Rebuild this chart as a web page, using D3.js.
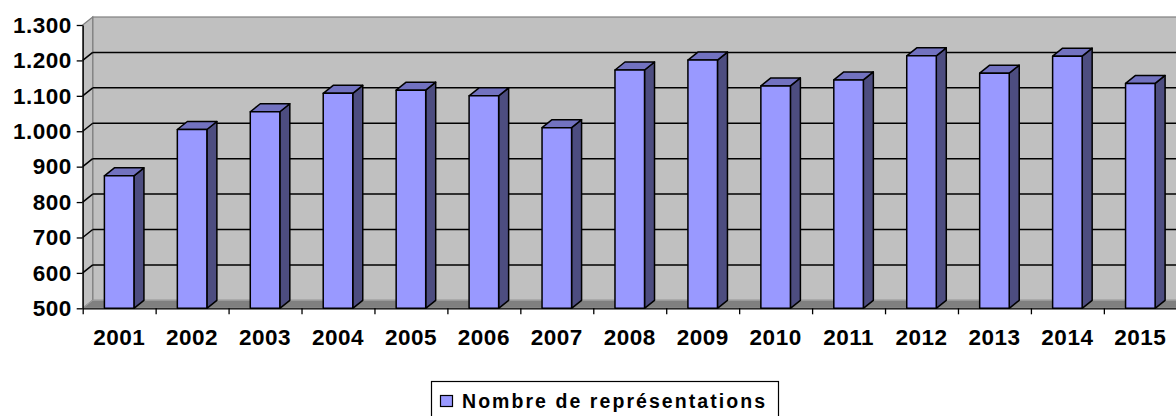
<!DOCTYPE html>
<html>
<head>
<meta charset="utf-8">
<script src="https://cdn.jsdelivr.net/npm/d3@7"></script>
<style>
  html, body { margin: 0; padding: 0; background: #fff; }
  svg { display: block; font-family: "Liberation Sans", Arial, sans-serif; }
  .axis text { font-size: 22.5px; font-weight: bold; fill: #000; letter-spacing: 0.5px; }
</style>
</head>
<body>
<div id="chart"></div>
<script>
// chart data
const years = ['2001', '2002', '2003', '2004', '2005', '2006', '2007', '2008',
               '2009', '2010', '2011', '2012', '2013', '2014', '2015'];
const representations = [874, 1005, 1055, 1107, 1116, 1100, 1010, 1173,
                         1201, 1128, 1145, 1213, 1164, 1212, 1135];
const yTicks = [500, 600, 700, 800, 900, 1000, 1100, 1200, 1300];
const seriesName = 'Nombre de représentations';

const width = 1176, height = 416;
const plotLeft = 82.7, plotBottom = 308.3, plotTop = 25;
const band = 72.94;
const plotRight = plotLeft + band * years.length;
// depth offset of the 3d box
const dx = 10, dy = -8;

const colors = {
    wall: '#c0c0c0',
    floor: '#808080',
    edge: '#808080',
    front: '#9999ff',
    side: '#4d4d80',
    top: '#7272c0'
};

const frLocale = d3.formatLocale({ decimal: ',', thousands: '.', grouping: [3], currency: ['', ' €'] });
const fmt = frLocale.format(',');

const svg = d3.select('#chart').append('svg')
    .attr('width', width)
    .attr('height', height);

const xScale = d3.scaleBand().domain(years).range([plotLeft, plotRight]).paddingInner(0).paddingOuter(0);
const yScale = d3.scaleLinear().domain([500, 1300]).range([plotBottom, plotTop]);

const barW = xScale.bandwidth() * 0.405;

// walls
const y0 = yScale(500), yTop = yScale(1300);
svg.append('rect')
    .attr('x', plotLeft + dx).attr('y', yTop + dy)
    .attr('width', width - plotLeft).attr('height', y0 - yTop)
    .attr('fill', colors.wall)
    .attr('stroke', colors.edge).attr('stroke-width', 1.2);

svg.append('polygon')
    .attr('points', [[plotLeft, yTop], [plotLeft + dx, yTop + dy], [plotLeft + dx, y0 + dy], [plotLeft, y0]].join(' '))
    .attr('fill', colors.wall)
    .attr('stroke', colors.edge).attr('stroke-width', 1.2);

svg.append('polygon')
    .attr('points', [[plotLeft, y0], [plotLeft + dx, y0 + dy], [width + 20, y0 + dy], [width + 20, y0]].join(' '))
    .attr('fill', colors.floor)
    .attr('stroke', '#a0a0a0').attr('stroke-width', 1);

// gridlines on back and side wall
const grid = svg.append('g').attr('class', 'grid');
yTicks.filter(v => v > 500 && v < 1300).forEach(function(v) {
    let y = yScale(v);
    grid.append('line')
        .attr('x1', plotLeft + dx).attr('x2', width + 20)
        .attr('y1', y + dy).attr('y2', y + dy)
        .attr('stroke', '#000').attr('stroke-width', 1.5);
    grid.append('line')
        .attr('x1', plotLeft).attr('x2', plotLeft + dx)
        .attr('y1', y).attr('y2', y + dy)
        .attr('stroke', '#000').attr('stroke-width', 1.5);
});

// bars
const bars = svg.append('g').attr('class', 'bars')
    .selectAll('g')
    .data(years.map((y, i) => ({ year: y, value: representations[i] })))
    .join('g');

bars.each(function(d) {
    let g = d3.select(this);
    let x = xScale(d.year) + (xScale.bandwidth() - barW) / 2;
    let yv = yScale(d.value);
    g.append('polygon')
        .attr('points', [[x + barW, yv], [x + barW + dx, yv + dy], [x + barW + dx, y0 + dy], [x + barW, y0]].join(' '))
        .attr('fill', colors.side);
    g.append('polygon')
        .attr('points', [[x, yv], [x + dx, yv + dy], [x + barW + dx, yv + dy], [x + barW, yv]].join(' '))
        .attr('fill', colors.top);
    g.append('rect')
        .attr('x', x).attr('y', yv)
        .attr('width', barW).attr('height', y0 - yv)
        .attr('fill', colors.front);
    g.selectAll('polygon, rect')
        .attr('stroke', '#000').attr('stroke-width', 1.5).attr('stroke-linejoin', 'round');
});

// axes
const yAxis = d3.axisLeft(yScale)
    .tickValues(yTicks)
    .tickFormat(fmt)
    .tickSize(6)
    .tickSizeOuter(0)
    .tickPadding(5);

svg.append('g')
    .attr('class', 'axis y-axis')
    .attr('transform', `translate(${plotLeft}, 0)`)
    .call(yAxis)
    .call(g => g.selectAll('line, path').attr('stroke', '#000').attr('stroke-width', 1.3));

const xAxis = d3.axisBottom(xScale)
    .tickSize(0)
    .tickPadding(21);

svg.append('g')
    .attr('class', 'axis x-axis')
    .attr('transform', `translate(0, ${plotBottom})`)
    .call(xAxis)
    .call(g => g.select('.domain').remove());

// boundary tick marks between categories
const edgeScale = d3.scaleLinear().domain([0, years.length]).range([plotLeft, plotRight]);
svg.append('g')
    .attr('transform', `translate(0, ${plotBottom})`)
    .call(d3.axisBottom(edgeScale).tickValues(d3.range(years.length + 1)).tickFormat('').tickSize(6).tickSizeOuter(0))
    .call(g => g.selectAll('line, path').attr('stroke', '#000').attr('stroke-width', 1.3));

// legend
const legend = svg.append('g').attr('class', 'legend');
legend.append('rect')
    .attr('x', 431.5).attr('y', 381.5)
    .attr('width', 347).attr('height', 60)
    .attr('fill', '#fff')
    .attr('stroke', '#000').attr('stroke-width', 1.2);
legend.append('rect')
    .attr('x', 440.5).attr('y', 395.5)
    .attr('width', 12).attr('height', 11)
    .attr('fill', colors.front)
    .attr('stroke', '#000').attr('stroke-width', 1.2);
legend.append('text')
    .attr('x', 462).attr('y', 408)
    .attr('textLength', 303)
    .attr('lengthAdjust', 'spacing')
    .style('font-size', '19.5px')
    .style('font-weight', 'bold')
    .text(seriesName);
</script>
</body>
</html>
